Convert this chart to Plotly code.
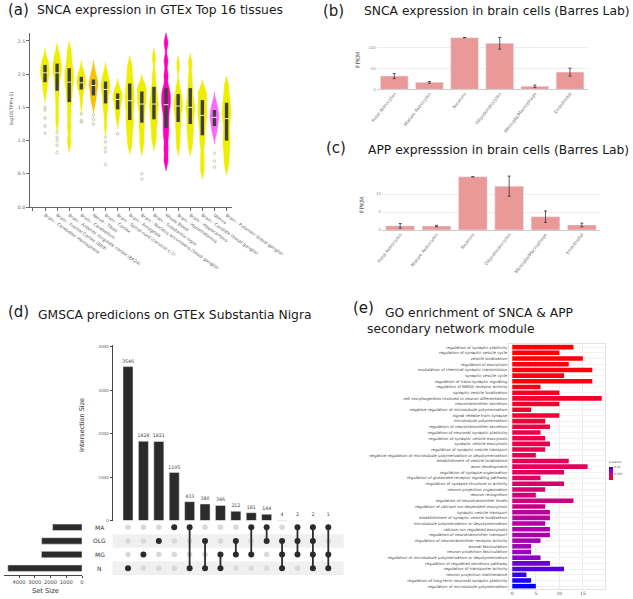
import plotly.graph_objects as go

W, H = 633, 599
def fx(p):
    return p / W
def fy(p):
    return 1 - p / H

FONT = "DejaVu Sans"

# ---------------- (a) SNCA in GTEx tissues ----------------
tissues = ["Brain - Cerebellar Hemisphere", "Brain - Frontal Cortex (BA9)",
           "Brain - Anterior cingulate cortex (BA24)", "Brain - Cerebellum",
           "Nerve - Tibial", "Brain - Cortex", "Brain - Spinal cord (cervical c-1)",
           "Brain - Amygdala", "Brain - Nucleus accumbens (basal ganglia)",
           "Brain - Substantia nigra", "Whole Blood", "Brain - Hypothalamus",
           "Brain - Hippocampus", "Brain - Caudate (basal ganglia)", "Uterus",
           "Brain - Putamen (basal ganglia)"]
tissue_colors = ["#EEEE00", "#EEEE00", "#EEEE00", "#EEEE00", "#F7C400", "#EEEE00",
                 "#EEEE00", "#EEEE00", "#EEEE00", "#EEEE00", "#FF00BB", "#EEEE00",
                 "#EEEE00", "#EEEE00", "#FF66FF", "#EEEE00"]
violin_samples = [
    [1.72, 1.80, 1.88, 1.94, 1.99, 2.02, 2.05, 2.09, 2.14, 2.19, 2.24],
    [1.28, 1.45, 1.62, 1.75, 1.86, 1.95, 2.02, 2.07, 2.12, 2.16, 2.24, 2.32],
    [0.98, 1.20, 1.40, 1.58, 1.70, 1.80, 1.88, 1.95, 2.02, 2.09, 2.20, 2.34],
    [1.56, 1.68, 1.77, 1.81, 1.85, 1.87, 1.90, 1.93, 1.96, 2.02, 2.06],
    [1.56, 1.62, 1.68, 1.74, 1.79, 1.83, 1.86, 1.89, 1.92, 1.98, 2.06],
    [1.22, 1.38, 1.50, 1.56, 1.65, 1.72, 1.77, 1.81, 1.85, 1.89, 1.96, 2.03],
    [1.32, 1.40, 1.47, 1.53, 1.58, 1.62, 1.65, 1.68, 1.71, 1.75, 1.78],
    [0.95, 1.10, 1.22, 1.31, 1.42, 1.52, 1.60, 1.68, 1.77, 1.86, 1.98, 2.12],
    [0.92, 1.05, 1.18, 1.27, 1.38, 1.48, 1.55, 1.61, 1.67, 1.74, 1.80, 1.84],
    [1.00, 1.12, 1.24, 1.32, 1.42, 1.50, 1.55, 1.62, 1.72, 1.81, 1.98, 2.24],
    [0.70, 0.88, 1.06, 1.19, 1.32, 1.45, 1.54, 1.62, 1.70, 1.79, 1.98, 2.20, 2.47],
    [0.92, 1.06, 1.18, 1.28, 1.38, 1.46, 1.52, 1.57, 1.63, 1.70, 1.82, 2.13],
    [0.92, 1.05, 1.16, 1.25, 1.35, 1.44, 1.50, 1.57, 1.68, 1.79, 1.95, 2.16],
    [0.57, 0.75, 0.95, 1.08, 1.20, 1.30, 1.38, 1.45, 1.53, 1.61, 1.70, 1.76],
    [1.10, 1.16, 1.22, 1.27, 1.32, 1.35, 1.38, 1.42, 1.46, 1.52, 1.58],
    [0.64, 0.78, 0.90, 1.00, 1.10, 1.22, 1.33, 1.40, 1.48, 1.57, 1.68, 1.82],
]
box_q1 = [1.88, 1.75, 1.58, 1.77, 1.68, 1.56, 1.47, 1.31, 1.27, 1.32, 1.19, 1.28, 1.25, 1.08, 1.22, 1.00]
box_median = [2.02, 2.02, 1.88, 1.87, 1.83, 1.77, 1.62, 1.60, 1.55, 1.55, 1.54, 1.52, 1.50, 1.38, 1.35, 1.33]
box_q3 = [2.14, 2.16, 2.09, 1.96, 1.92, 1.89, 1.71, 1.86, 1.74, 1.81, 1.79, 1.70, 1.79, 1.61, 1.46, 1.57]
outliers = [[1.50, 1.46, 1.34, 1.22, 1.11], [1.12, 1.05, 1.00, 0.93, 0.82], [],
            [1.40, 1.30, 1.28], [1.38, 1.32, 1.25], [1.05, 0.98, 0.89, 0.83, 0.64],
            [1.10], [], [0.50, 0.42], [], [], [], [], [], [0.81, 0.69, 0.60], []]
a_yticks = [0.0, 0.5, 1.0, 1.5, 2.0, 2.5]

# ---------------- (b)/(c) Barres lab ----------------
cell_types = ["Fetal Astrocytes", "Mature Astrocytes", "Neurons", "Oligodendrocytes",
              "Microglia/Macrophage", "Endothelial"]
snca_fpkm = [31.5, 16.5, 123.0, 109.5, 7.0, 41.0]
snca_err = [6.0, 2.0, None, 14.0, 3.0, 9.5]
app_fpkm = [1.15, 1.10, 14.8, 12.2, 3.7, 1.4]
app_err = [0.65, 0.2, None, 2.8, 1.6, 0.5]

# ---------------- (d) UpSet ----------------
set_names = ["MA", "OLG", "MG", "N"]
set_sizes = [1868, 2565, 2576, 4712]
intersection_sizes = [3546, 1828, 1821, 1105, 433, 380, 346, 212, 181, 144, 4, 2, 2, 1]
intersection_sets = [["N"], ["MG"], ["OLG"], ["MA"], ["MA", "N"], ["OLG", "N"],
                     ["MG", "N"], ["OLG", "MG"], ["MA", "MG"], ["MA", "OLG"],
                     ["OLG", "MG", "N"], ["MA", "OLG", "MG"], ["MA", "OLG", "MG", "N"],
                     ["MA", "MG", "N"]]

# ---------------- (e) GO enrichment ----------------
go_terms = ["regulation of synaptic plasticity", "regulation of synaptic vesicle cycle",
            "vesicle localization", "regulation of exocytosis",
            "modulation of chemical synaptic transmission", "synaptic vesicle cycle",
            "regulation of trans-synaptic signaling", "regulation of NMDA receptor activity",
            "synaptic vesicle localization", "cell morphogenesis involved in neuron differentiation",
            "neurotransmitter secretion", "negative regulation of microtubule polymerization",
            "signal release from synapse", "microtubule polymerization",
            "regulation of neurotransmitter secretion", "regulation of neuronal synaptic plasticity",
            "regulation of synaptic vesicle exocytosis", "synaptic vesicle exocytosis",
            "regulation of synaptic vesicle transport",
            "negative regulation of microtubule polymerization or depolymerization",
            "establishment of vesicle localization", "axon development",
            "regulation of synapse organization", "regulation of glutamate receptor signaling pathway",
            "regulation of synapse structure or activity", "neuron projection organization",
            "neuron recognition", "regulation of neurotransmitter levels",
            "regulation of calcium ion-dependent exocytosis", "synaptic vesicle transport",
            "establishment of synaptic vesicle localization",
            "microtubule polymerization or depolymerization", "calcium ion regulated exocytosis",
            "regulation of neurotransmitter transport",
            "regulation of neurotransmitter receptor activity", "axonal fasciculation",
            "neuron projection fasciculation",
            "regulation of microtubule polymerization or depolymerization",
            "regulation of regulated secretory pathway", "regulation of transporter activity",
            "neuron projection maintenance", "regulation of long-term neuronal synaptic plasticity",
            "regulation of microtubule polymerization"]
go_counts = [13, 10, 15, 12, 17, 11, 17, 6, 10, 19, 10, 4, 10, 7, 8, 6, 7, 8, 7, 5, 12, 16,
             11, 6, 11, 7, 5, 13, 7, 8, 8, 7, 8, 8, 6, 4, 4, 6, 8, 11, 3, 4, 5]
go_padjust = [0.0010, 0.0011, 0.0012, 0.0013, 0.0014, 0.0015, 0.0015, 0.0017, 0.0019, 0.0021,
              0.0023, 0.0024, 0.0025, 0.0027, 0.0028, 0.0030, 0.0031, 0.0033, 0.0033, 0.0035,
              0.0036, 0.0037, 0.0039, 0.0041, 0.0042, 0.0044, 0.0048, 0.0053, 0.0058, 0.0061,
              0.0062, 0.0064, 0.0067, 0.0069, 0.0071, 0.0074, 0.0076, 0.0079, 0.0084, 0.0088,
              0.0092, 0.0096, 0.0100]

fig = go.Figure()

# ---- (a) violins
for i, s in enumerate(violin_samples):
    fig.add_trace(go.Violin(x=[i] * len(s), y=s, xaxis="x", yaxis="y", width=0.74,
                            fillcolor=tissue_colors[i], bandwidth=0.075,
                            line=dict(color=tissue_colors[i], width=0.4),
                            points=False, box_visible=False, spanmode="soft",
                            hoverinfo="skip", showlegend=False, opacity=1))
n_t = len(tissues)
bxs, bys = [], []
for i in range(n_t):
    bxs += [i, i, None]
    bys += [box_q1[i], box_q3[i], None]
fig.add_trace(go.Scatter(x=bxs, y=bys, mode="lines", xaxis="x", yaxis="y",
                         line=dict(color="#3f3f3f", width=3.4), showlegend=False))
fig.add_trace(go.Scatter(x=list(range(n_t)), y=box_median, mode="markers", xaxis="x", yaxis="y",
                         marker=dict(symbol="line-ew", size=3.4, line=dict(color="white", width=0.9)),
                         showlegend=False))
ox, oy = [], []
for i, ol in enumerate(outliers):
    for v in ol:
        ox.append(i)
        oy.append(v)
fig.add_trace(go.Scatter(x=ox, y=oy, mode="markers", xaxis="x", yaxis="y",
                         marker=dict(symbol="circle-open", size=2.6, color="#b8b890",
                                     line=dict(width=0.7)), showlegend=False))

# ---- (b)
fig.add_trace(go.Bar(x=cell_types, y=snca_fpkm, width=0.79, xaxis="x2", yaxis="y2",
                     marker=dict(color="#EA9999"),
                     error_y=dict(type="data", array=snca_err, color="#333333",
                                  thickness=0.8, width=1.5), showlegend=False))
# ---- (c)
fig.add_trace(go.Bar(x=cell_types, y=app_fpkm, width=0.79, xaxis="x3", yaxis="y3",
                     marker=dict(color="#EA9999"),
                     error_y=dict(type="data", array=app_err, color="#333333",
                                  thickness=0.8, width=1.5), showlegend=False))

# ---- (d) UpSet
n_i = len(intersection_sizes)
fig.add_trace(go.Bar(x=list(range(n_i)), y=intersection_sizes, width=0.65, xaxis="x4", yaxis="y4",
                     marker=dict(color="#2b2b2b"), text=[str(v) for v in intersection_sizes],
                     textposition="outside", constraintext="none", cliponaxis=False,
                     textfont=dict(size=4.7, color="#444444"), showlegend=False))
row_y = {name: len(set_names) - 1 - k for k, name in enumerate(set_names)}
gx, gyy, bx, byy, lx, ly = [], [], [], [], [], []
for c, members in enumerate(intersection_sets):
    ys = [row_y[m] for m in members]
    for name in set_names:
        if name in members:
            bx.append(c); byy.append(row_y[name])
        else:
            gx.append(c); gyy.append(row_y[name])
    if len(ys) > 1:
        lx += [c, c, None]
        ly += [min(ys), max(ys), None]
fig.add_trace(go.Scatter(x=gx, y=gyy, mode="markers", xaxis="x5", yaxis="y5",
                         marker=dict(size=5.5, color="#d9d9d9"), showlegend=False))
fig.add_trace(go.Scatter(x=lx, y=ly, mode="lines", xaxis="x5", yaxis="y5",
                         line=dict(color="#2b2b2b", width=1.8), showlegend=False))
fig.add_trace(go.Scatter(x=bx, y=byy, mode="markers", xaxis="x5", yaxis="y5",
                         marker=dict(size=6, color="#2b2b2b"), showlegend=False))
fig.add_trace(go.Bar(y=[row_y[n] for n in set_names], x=set_sizes, orientation="h", width=0.47,
                     xaxis="x6", yaxis="y6", marker=dict(color="#2b2b2b"), showlegend=False))

# ---- (e) GO
fig.add_trace(go.Bar(y=go_terms, x=go_counts, orientation="h", width=0.8, xaxis="x7", yaxis="y7",
                     marker=dict(color=go_padjust, line=dict(width=0),
                                 colorscale=[[0, "#FF0000"], [0.25, "rgb(231,0,79)"],
                                             [0.5, "rgb(200,0,136)"], [0.75, "rgb(153,0,194)"],
                                             [1, "#0000FF"]],
                                 colorbar=dict(x=fx(609), xanchor="left", y=fy(469), yanchor="middle",
                                               lenmode="pixels", len=22, thickness=4,
                                               xpad=0, ypad=0, outlinewidth=0, nticks=3,
                                               tickfont=dict(size=3, color="#555"),
                                               title=dict(text="p.adjust", side="top",
                                                          font=dict(size=3, color="#555")))),
                     showlegend=False))

fig.update_layout(
    width=W, height=H, margin=dict(l=0, r=0, t=0, b=0, autoexpand=False), autosize=False,
    paper_bgcolor="white", plot_bgcolor="white", showlegend=False,
    font=dict(family=FONT, color="#222222"), violinmode="overlay",
    xaxis=dict(domain=[fx(30), fx(232)], range=[-1.24, 15.45], anchor="y",
               tickvals=[-1] + list(range(n_t)), ticktext=[""] + tissues, tickangle=35,
               tickfont=dict(size=4.4, color="#666666"), ticks="outside", ticklen=3,
               tickcolor="#666", showline=True, linecolor="#666666", linewidth=1,
               showgrid=False, zeroline=False),
    yaxis=dict(domain=[fy(207), fy(33)], range=[0, 2.62], anchor="x",
               tickvals=a_yticks, tickformat=".1f", tickfont=dict(size=4.6, color="#666666"),
               ticks="outside", ticklen=3, tickcolor="#666", showline=True,
               linecolor="#666666", linewidth=1, showgrid=False, zeroline=False),
    xaxis2=dict(domain=[fx(376.7), fx(587.6)], anchor="y2", tickangle=-52,
                tickfont=dict(size=4.5, color="#777777"), showgrid=False, showline=False),
    yaxis2=dict(domain=[fy(89.3), fy(32.6)], range=[0, 135], anchor="x2", tickvals=[0, 50, 100],
                tickfont=dict(size=3.8, color="#888888"), gridcolor="#eeeeee", gridwidth=0.6,
                zeroline=True, zerolinecolor="#cccccc", zerolinewidth=1),
    xaxis3=dict(domain=[fx(382), fx(600)], anchor="y3", tickangle=-52,
                tickfont=dict(size=4.5, color="#777777"), showgrid=False, showline=False),
    yaxis3=dict(domain=[fy(230), fy(175)], range=[0, 15.3], anchor="x3", tickvals=[0, 5, 10],
                tickfont=dict(size=3.8, color="#888888"), gridcolor="#eeeeee", gridwidth=0.6,
                zeroline=True, zerolinecolor="#cccccc", zerolinewidth=1),
    xaxis4=dict(domain=[fx(112.6), fx(343.7)], range=[-1, 14], anchor="y4", visible=False),
    yaxis4=dict(domain=[fy(520.5), fy(345)], range=[0, 4044], anchor="x4",
                tickvals=[0, 1000, 2000, 3000, 4000], ticks="outside", ticklen=2,
                tickcolor="#444", tickfont=dict(size=4, color="#555555"), showline=True,
                linecolor="#444444", linewidth=1, showgrid=False, zeroline=False),
    xaxis5=dict(domain=[fx(112.6), fx(343.7)], range=[-1, 14], anchor="y5", visible=False),
    yaxis5=dict(domain=[fy(575), fy(520.5)], range=[-0.5, 3.5], anchor="x5", visible=False),
    xaxis6=dict(domain=[fx(4), fx(82)], range=[4952, 0], anchor="y6",
                tickvals=[0, 1000, 2000, 3000, 4000], ticks="outside", ticklen=2, tickangle=0,
                tickcolor="#444", tickfont=dict(size=5.2, color="#444444"), showline=True,
                linecolor="#444444", linewidth=1, showgrid=False, zeroline=False),
    yaxis6=dict(domain=[fy(575), fy(520.5)], range=[-0.5, 3.5], anchor="x6", visible=False),
    xaxis7=dict(domain=[fx(509), fx(605)], range=[-0.7, 19.7], anchor="y7",
                tickvals=[0, 5, 10, 15], tickfont=dict(size=4.5, color="#555555"),
                gridcolor="#ececec", gridwidth=0.6, showline=True, mirror=True,
                linecolor="#e2e2e2", zeroline=False),
    yaxis7=dict(domain=[fy(589), fy(344.3)], anchor="x7", type="category",
                categoryorder="array", categoryarray=go_terms,
                range=[len(go_terms) - 0.5, -0.5], tickfont=dict(size=3.9, color="#444444"),
                gridcolor="#f2f2f2", gridwidth=0.5, showline=True, mirror=True,
                linecolor="#e2e2e2"),
)

for y0 in (1.5, -0.5):
    fig.add_shape(type="rect", xref="x5 domain", yref="y5", x0=0, x1=1, y0=y0, y1=y0 + 1,
                  fillcolor="#f0f0f0", line=dict(width=0), layer="below")

ann = []
def label(text, x, y, size, color="#1a1a1a", xanchor="left", yanchor="middle", angle=0,
          xref="paper", yref="paper"):
    ann.append(dict(text=text, x=x, y=y, xref=xref, yref=yref, showarrow=False,
                    xanchor=xanchor, yanchor=yanchor, textangle=angle,
                    font=dict(size=size, color=color, family=FONT)))

label("(a)", fx(6), fy(10), 15)
label("SNCA expression in GTEx Top 16 tissues", fx(35), fy(10), 12.3)
label("(b)", fx(321), fy(11), 15)
label("SNCA expression in brain cells (Barres Lab)", fx(361.5), fy(11), 12.3)
label("(c)", fx(324), fy(148), 15)
label("APP expresssion in brain cells (Barres Lab)", fx(366), fy(150), 12.3)
label("(d)", fx(6), fy(312), 15)
label("GMSCA predicions on GTEx Substantia Nigra", fx(36), fy(315), 12.3)
label("(e)", fx(351), fy(308), 15)
label("GO enrichment of SNCA & APP", fx(382.5), fy(312.5), 12.3)
label("secondary network module", fx(365), fy(329), 12.3)

label("log10(TPM+1)", fx(12), fy(108), 4.7, color="#555555", xanchor="center", angle=-90)
label("FPKM", fx(357), fy(60), 6, color="#666666", xanchor="center", angle=-90)
label("FPKM", fx(362), fy(205), 6, color="#666666", xanchor="center", angle=-90)
label("Intersection Size", fx(82), fy(425), 6.5, color="#333333", xanchor="center", angle=-90)
label("Set Size", fx(45), fy(591), 6.7, color="#333333", xanchor="center")
for name in set_names:
    label(name, fx(99.5), row_y[name], 6, color="#333333", xanchor="center", yref="y5")

fig.update_layout(annotations=ann)
fig.write_html("out.html", config={"displayModeBar": False},
               post_script="document.body.style.margin='0';document.body.style.padding='0';")
